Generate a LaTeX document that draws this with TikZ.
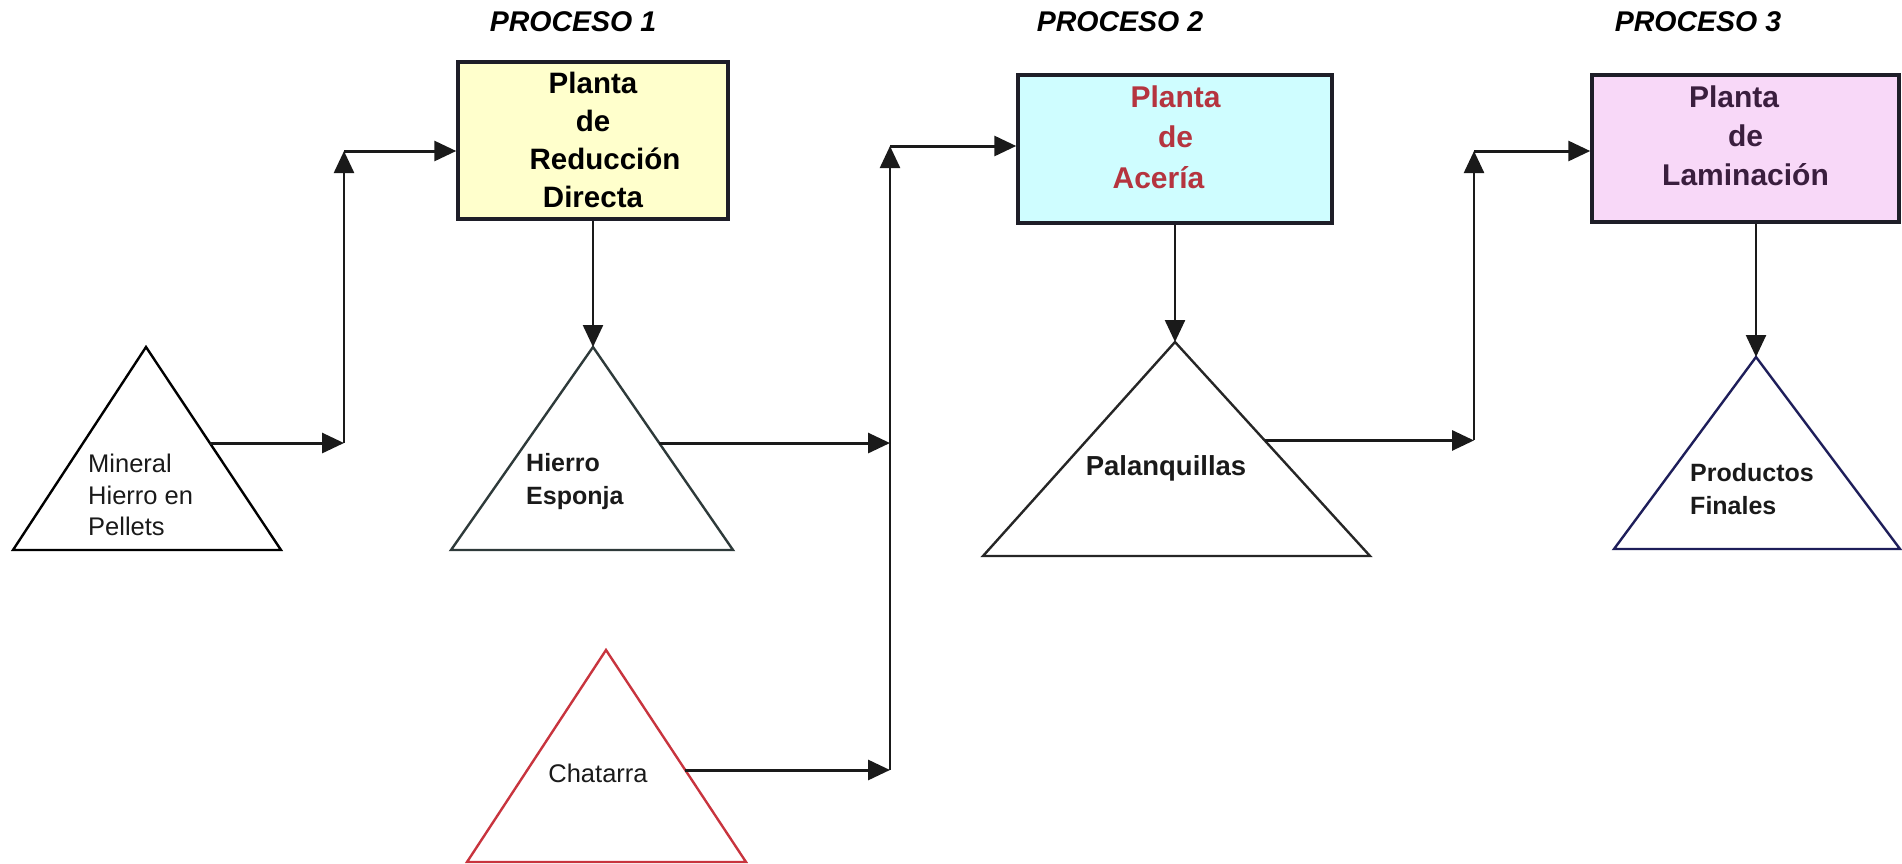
\documentclass[tikz,border=0pt]{standalone}
\usepackage{fontspec}
\setmainfont{Liberation Sans}
\usetikzlibrary{arrows.meta,calc}

\definecolor{boxyellow}{HTML}{FFFFCC}
\definecolor{boxcyan}{HTML}{CFFDFF}
\definecolor{boxpink}{HTML}{F8D8F8}
\definecolor{acerred}{HTML}{B5343F}
\definecolor{lamviolet}{HTML}{3A1E3E}
\definecolor{edgedark}{HTML}{1E1E28}
\definecolor{scrapred}{HTML}{C8343E}
\definecolor{navyedge}{HTML}{1E1E5A}
\definecolor{tealedge}{HTML}{2E3A3A}
\definecolor{inkdark}{HTML}{1A1A1A}

\begin{document}
\begin{tikzpicture}[x=1pt,y=-1pt,
  plant/.style={draw=edgedark, line width=3.5pt, inner sep=0pt},
  planttext/.style={font=\fontsize{29.5}{38}\selectfont\bfseries, align=center, inner sep=0pt},
  stage/.style={font=\fontsize{28.5}{34}\selectfont\bfseries\itshape, inner sep=0pt},
  stock/.style={line width=2.4pt, line join=miter},
  stocktext/.style={font=\fontsize{25.5}{31.5}\selectfont, align=left, inner sep=0pt, text=inkdark},
  conn/.style={line width=3pt, draw=inkdark, -{Triangle[length=22pt,width=20pt]}},
  riser/.style={line width=2.4pt, draw=inkdark, -{Triangle[length=22pt,width=20pt]}},
]
\useasboundingbox (0,0) rectangle (1902,863);

% stage headings
\node[stage] (p1) at (573,22) {PROCESO 1};
\node[stage] (p2) at (1120,22) {PROCESO 2};
\node[stage] (p3) at (1698,22) {PROCESO 3};

% plants
\node[plant, fill=boxyellow, minimum width=270pt, minimum height=157pt] (rd) at (593,140.5) {};
\node[planttext] (rdt) at (593,140) {Planta\\de\\\hspace*{24pt}Reducción\\Directa};

\node[plant, fill=boxcyan, minimum width=314pt, minimum height=148pt] (ac) at (1175,149) {};
\node[planttext, text=acerred, font=\fontsize{30}{40.5}\selectfont\bfseries] (act) at (1175.5,137)
  {Planta\\de\hspace*{42pt}\\Acería\hspace*{34pt}};

\node[plant, fill=boxpink, minimum width=307pt, minimum height=147pt] (lm) at (1745.5,148.5) {};
\node[planttext, text=lamviolet, font=\fontsize{30}{39}\selectfont\bfseries] (lmt) at (1745.5,136)
  {Planta\hspace*{23pt}\\de\hspace*{25pt}\\Laminación};

% stock triangles
\coordinate (t1a) at (146,347);
\coordinate (t1l) at (13,550);
\coordinate (t1r) at (281,550);
\draw[stock, draw=black] (t1a) -- (t1r) -- (t1l) -- cycle;
\node[stocktext, anchor=west] (mhp) at (88,495) {Mineral\\Hierro en\\Pellets};

\coordinate (t2a) at (593,347);
\coordinate (t2l) at (451,550);
\coordinate (t2r) at (733,550);
\draw[stock, draw=tealedge] (t2a) -- (t2r) -- (t2l) -- cycle;
\node[stocktext, anchor=west, font=\fontsize{25}{33}\selectfont\bfseries] (he) at (526,482) {Hierro\\Esponja};

\coordinate (t3a) at (1175,342);
\coordinate (t3l) at (983,556);
\coordinate (t3r) at (1370,556);
\draw[stock, draw=black!85] (t3a) -- (t3r) -- (t3l) -- cycle;
\node[stocktext, font=\fontsize{27.5}{33}\selectfont\bfseries] (pq) at (1166,468) {Palanquillas};

\coordinate (t4a) at (1756,357);
\coordinate (t4l) at (1614,549);
\coordinate (t4r) at (1900,549);
\draw[stock, draw=navyedge] (t4a) -- (t4r) -- (t4l) -- cycle;
\node[stocktext, anchor=west, font=\fontsize{25}{33}\selectfont\bfseries] (pf) at (1690,489) {Productos\\Finales};

\coordinate (t5a) at (606,650);
\coordinate (t5l) at (467,862);
\coordinate (t5r) at (746,862);
\draw[stock, draw=scrapred] (t5a) -- (t5r) -- (t5l) -- cycle;
\node[stocktext] (ch) at (598,773) {Chatarra};

% points where the flows leave the triangles
\coordinate (t1e) at ($(t1a)!0.473!(t1r)$);
\coordinate (t2e) at ($(t2a)!0.473!(t2r)$);
\coordinate (t3e) at ($(t3a)!0.46!(t3r)$);
\coordinate (t5e) at ($(t5a)!0.566!(t5r)$);

% junction points of the feed lines
\coordinate (j1t) at (344,151);
\coordinate (j1b) at (t1e -| j1t);
\coordinate (j2t) at (890,146);
\coordinate (j2m) at (t2e -| j2t);
\coordinate (j2b) at (t5e -| j2t);
\coordinate (j3t) at (1474,151);
\coordinate (j3b) at (t3e -| j3t);

% process 1 feed
\draw[conn] (t1e) -- (j1b);
\draw[riser] (j1b) -- (j1t);
\draw[conn] (j1t) -- (rd.west |- j1t);
\draw[riser] (rd.south) -- (t2a);

% process 2 feed
\draw[conn] (t2e) -- (j2m);
\draw[conn] (t5e) -- (j2b);
\draw[riser] (j2b) -- (j2t);
\draw[conn] (j2t) -- (ac.west |- j2t);
\draw[riser] (ac.south) -- (t3a);

% process 3 feed
\draw[conn] (t3e) -- (j3b);
\draw[riser] (j3b) -- (j3t);
\draw[conn] (j3t) -- (lm.west |- j3t);
\draw[riser] (t4a |- lm.south) -- (t4a);
\end{tikzpicture}
\end{document}
